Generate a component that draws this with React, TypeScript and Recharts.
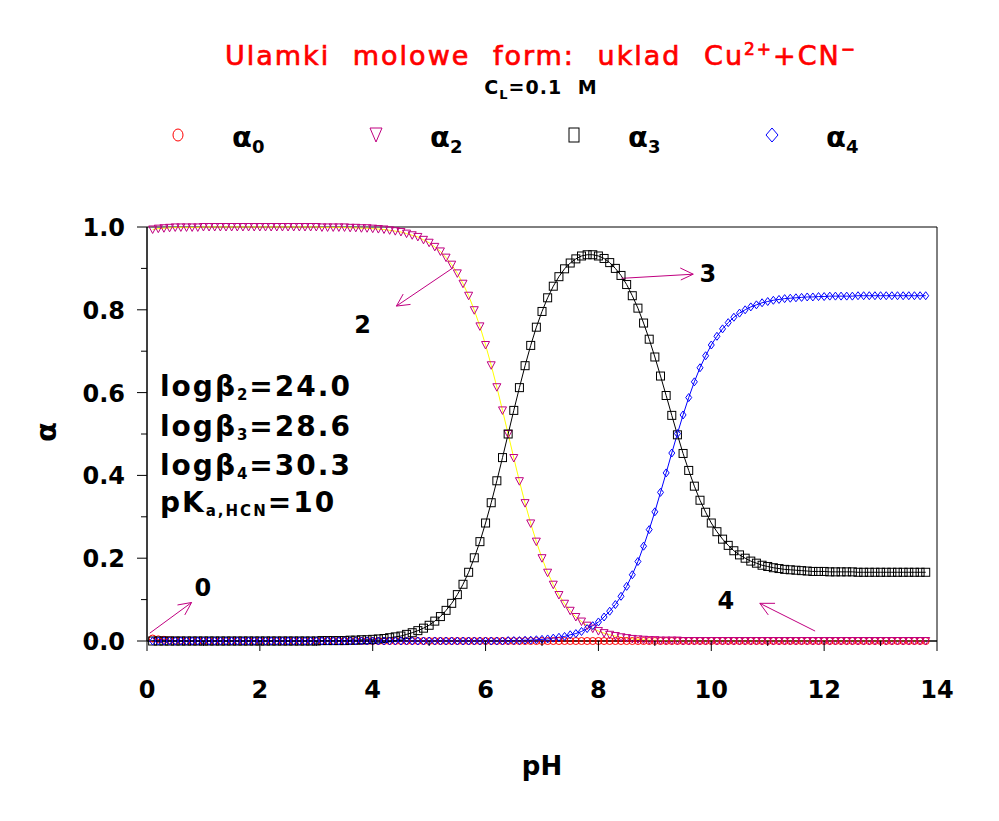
import { LineChart, Line, XAxis, YAxis, ReferenceArea, ReferenceLine, ReferenceDot } from 'recharts'

// pH grid, 0.1 .. 13.8
const pH = [
  0.1, 0.2, 0.3, 0.4, 0.5, 0.6, 0.7, 0.8, 0.9, 1.0,
  1.1, 1.2, 1.3, 1.4, 1.5, 1.6, 1.7, 1.8, 1.9, 2.0,
  2.1, 2.2, 2.3, 2.4, 2.5, 2.6, 2.7, 2.8, 2.9, 3.0,
  3.1, 3.2, 3.3, 3.4, 3.5, 3.6, 3.7, 3.8, 3.9, 4.0,
  4.1, 4.2, 4.3, 4.4, 4.5, 4.6, 4.7, 4.8, 4.9, 5.0,
  5.1, 5.2, 5.3, 5.4, 5.5, 5.6, 5.7, 5.8, 5.9, 6.0,
  6.1, 6.2, 6.3, 6.4, 6.5, 6.6, 6.7, 6.8, 6.9, 7.0,
  7.1, 7.2, 7.3, 7.4, 7.5, 7.6, 7.7, 7.8, 7.9, 8.0,
  8.1, 8.2, 8.3, 8.4, 8.5, 8.6, 8.7, 8.8, 8.9, 9.0,
  9.1, 9.2, 9.3, 9.4, 9.5, 9.6, 9.7, 9.8, 9.9, 10.0,
  10.1, 10.2, 10.3, 10.4, 10.5, 10.6, 10.7, 10.8, 10.9, 11.0,
  11.1, 11.2, 11.3, 11.4, 11.5, 11.6, 11.7, 11.8, 11.9, 12.0,
  12.1, 12.2, 12.3, 12.4, 12.5, 12.6, 12.7, 12.8, 12.9, 13.0,
  13.1, 13.2, 13.3, 13.4, 13.5, 13.6, 13.7, 13.8,
]

const alpha0 = [
  0.006, 0.004, 0.003, 0.002, 0.001, 0.001, 0, 0, 0, 0,
  0, 0, 0, 0, 0, 0, 0, 0, 0, 0,
  0, 0, 0, 0, 0, 0, 0, 0, 0, 0,
  0, 0, 0, 0, 0, 0, 0, 0, 0, 0,
  0, 0, 0, 0, 0, 0, 0, 0, 0, 0,
  0, 0, 0, 0, 0, 0, 0, 0, 0, 0,
  0, 0, 0, 0, 0, 0, 0, 0, 0, 0,
  0, 0, 0, 0, 0, 0, 0, 0, 0, 0,
  0, 0, 0, 0, 0, 0, 0, 0, 0, 0,
  0, 0, 0, 0, 0, 0, 0, 0, 0, 0,
  0, 0, 0, 0, 0, 0, 0, 0, 0, 0,
  0, 0, 0, 0, 0, 0, 0, 0, 0, 0,
  0, 0, 0, 0, 0, 0, 0, 0, 0, 0,
  0, 0, 0, 0, 0, 0, 0, 0,
]

const alpha2 = [
  0.994, 0.996, 0.997, 0.998, 0.999, 0.999, 0.999, 0.999, 0.999, 1.0,
  1.0, 1.0, 1.0, 1.0, 1.0, 1.0, 1.0, 1.0, 1.0, 1.0,
  1.0, 1.0, 1.0, 1.0, 1.0, 1.0, 1.0, 1.0, 1.0, 1.0,
  0.999, 0.999, 0.999, 0.999, 0.999, 0.998, 0.998, 0.997, 0.997, 0.996,
  0.995, 0.994, 0.992, 0.99, 0.988, 0.984, 0.98, 0.976, 0.969, 0.962,
  0.952, 0.941, 0.926, 0.909, 0.888, 0.863, 0.834, 0.799, 0.76, 0.715,
  0.666, 0.613, 0.557, 0.5, 0.442, 0.386, 0.333, 0.284, 0.24, 0.2,
  0.165, 0.136, 0.111, 0.09, 0.073, 0.058, 0.047, 0.037, 0.03, 0.024,
  0.019, 0.015, 0.012, 0.009, 0.007, 0.005, 0.004, 0.003, 0.002, 0.002,
  0.001, 0.001, 0.001, 0.001, 0, 0, 0, 0, 0, 0,
  0, 0, 0, 0, 0, 0, 0, 0, 0, 0,
  0, 0, 0, 0, 0, 0, 0, 0, 0, 0,
  0, 0, 0, 0, 0, 0, 0, 0, 0, 0,
  0, 0, 0, 0, 0, 0, 0, 0,
]

const alpha3 = [
  0, 0, 0, 0, 0, 0, 0, 0, 0, 0,
  0, 0, 0, 0, 0, 0, 0, 0, 0, 0,
  0, 0, 0, 0, 0, 0, 0, 0, 0, 0,
  0.001, 0.001, 0.001, 0.001, 0.001, 0.002, 0.002, 0.003, 0.003, 0.004,
  0.005, 0.006, 0.008, 0.01, 0.012, 0.016, 0.02, 0.025, 0.031, 0.038,
  0.048, 0.059, 0.074, 0.091, 0.112, 0.137, 0.166, 0.201, 0.24, 0.285,
  0.334, 0.387, 0.443, 0.5, 0.557, 0.612, 0.665, 0.714, 0.758, 0.796,
  0.829, 0.857, 0.88, 0.899, 0.913, 0.923, 0.93, 0.933, 0.933, 0.93,
  0.924, 0.914, 0.9, 0.883, 0.861, 0.834, 0.804, 0.768, 0.729, 0.686,
  0.64, 0.593, 0.545, 0.498, 0.453, 0.412, 0.374, 0.34, 0.311, 0.285,
  0.264, 0.246, 0.231, 0.218, 0.208, 0.2, 0.193, 0.188, 0.183, 0.18,
  0.177, 0.175, 0.173, 0.172, 0.171, 0.17, 0.169, 0.168, 0.168, 0.168,
  0.167, 0.167, 0.167, 0.167, 0.167, 0.166, 0.166, 0.166, 0.166, 0.166,
  0.166, 0.166, 0.166, 0.166, 0.166, 0.166, 0.166, 0.166,
]

const alpha4 = [
  0, 0, 0, 0, 0, 0, 0, 0, 0, 0,
  0, 0, 0, 0, 0, 0, 0, 0, 0, 0,
  0, 0, 0, 0, 0, 0, 0, 0, 0, 0,
  0, 0, 0, 0, 0, 0, 0, 0, 0, 0,
  0, 0, 0, 0, 0, 0, 0, 0, 0, 0,
  0, 0, 0, 0, 0, 0, 0, 0, 0, 0,
  0, 0, 0, 0.001, 0.001, 0.001, 0.002, 0.002, 0.003, 0.004,
  0.005, 0.007, 0.009, 0.011, 0.015, 0.018, 0.023, 0.03, 0.037, 0.046,
  0.058, 0.072, 0.088, 0.108, 0.132, 0.16, 0.192, 0.229, 0.269, 0.312,
  0.359, 0.406, 0.454, 0.501, 0.546, 0.588, 0.626, 0.66, 0.689, 0.715,
  0.736, 0.754, 0.769, 0.782, 0.792, 0.8, 0.807, 0.812, 0.817, 0.82,
  0.823, 0.825, 0.827, 0.828, 0.829, 0.83, 0.831, 0.831, 0.832, 0.832,
  0.833, 0.833, 0.833, 0.833, 0.833, 0.834, 0.834, 0.834, 0.834, 0.834,
  0.834, 0.834, 0.834, 0.834, 0.834, 0.834, 0.834, 0.834,
]

const xTicks = [0, 1, 2, 3, 4, 5, 6, 7, 8, 9, 10, 11, 12, 13, 14]
const yTicks = [0, 0.1, 0.2, 0.3, 0.4, 0.5, 0.6, 0.7, 0.8, 0.9, 1.0]

// annotation arrows in data units: tail, head, two wing ends
const arrows = [
  { tail: [5.43, 0.902], head: [4.42, 0.809], w1: [4.54, 0.838], w2: [4.67, 0.813] },
  { tail: [8.41, 0.876], head: [9.68, 0.886], w1: [9.45, 0.901], w2: [9.46, 0.872] },
  { tail: [0.05, 0.019], head: [0.79, 0.093], w1: [0.54, 0.087], w2: [0.67, 0.063] },
  { tail: [11.84, 0.024], head: [10.86, 0.091], w1: [11.13, 0.091], w2: [11.01, 0.063] },
]
const curveLabels = [
  { text: '2', x: 3.82, y: 0.766 },
  { text: '3', x: 9.94, y: 0.888 },
  { text: '0', x: 0.99, y: 0.13 },
  { text: '4', x: 10.26, y: 0.099 },
]

const data = pH.map((p, i) => ({ pH: p, a0: alpha0[i], a2: alpha2[i], a3: alpha3[i], a4: alpha4[i] }))

const MAGENTA = '#c00080'
const FONT = '"DejaVu Sans", sans-serif'

const CircleDot = (p: any) => (
  <circle key={p.index} cx={p.cx} cy={p.cy} r={3.5} fill="none" stroke="#ff0000" strokeWidth={1} />
)
const TriDot = (p: any) => (
  <path key={p.index} d={`M${p.cx - 4},${p.cy - 3.5}L${p.cx + 4},${p.cy - 3.5}L${p.cx},${p.cy + 4}Z`}
    fill="none" stroke={MAGENTA} strokeWidth={1} />
)
const SquareDot = (p: any) => (
  <rect key={p.index} x={p.cx - 4} y={p.cy - 4} width={8} height={8} fill="none" stroke="#000" strokeWidth={1} />
)
const DiamondDot = (p: any) => (
  <path key={p.index} d={`M${p.cx},${p.cy - 4}L${p.cx + 3},${p.cy}L${p.cx},${p.cy + 4}L${p.cx - 3},${p.cy}Z`}
    fill="none" stroke="#0000ff" strokeWidth={1} />
)

const XTick = (props: any) => {
  const { x, y, payload } = props
  const v = payload.value
  const major = v % 2 === 0
  return (
    <g>
      <line x1={x} y1={y} x2={x} y2={y + (major ? 10 : 5)} stroke="#000" />
      {major && (
        <text x={x} y={y + 57} textAnchor="middle" fontFamily={FONT} fontWeight="bold" fontSize={24} fill="#000">
          {v}
        </text>
      )}
    </g>
  )
}

const YTick = (props: any) => {
  const { x, y, payload } = props
  const v = payload.value
  const major = Math.round(v * 10) % 2 === 0
  return (
    <g>
      <line x1={x} y1={y} x2={x - (major ? 10 : 6)} y2={y} stroke="#000" />
      {major && (
        <text x={x - 22} y={y + 9} textAnchor="end" fontFamily={FONT} fontWeight="bold" fontSize={24} fill="#000">
          {v.toFixed(1)}
        </text>
      )}
    </g>
  )
}

const legendItems = [
  { sub: '0', mx: 178, tx: 232, kind: 'circle' },
  { sub: '2', mx: 376, tx: 430, kind: 'tri' },
  { sub: '3', mx: 574, tx: 628, kind: 'square' },
  { sub: '4', mx: 772, tx: 826, kind: 'diamond' },
]

function LegendMarker({ kind, x, y }: { kind: string; x: number; y: number }) {
  if (kind === 'circle') return <ellipse cx={x} cy={y} rx={5} ry={6} fill="none" stroke="#ff0000" />
  if (kind === 'tri') return <path d={`M${x - 6},${y - 7}L${x + 6},${y - 7}L${x},${y + 7}Z`} fill="none" stroke={MAGENTA} />
  if (kind === 'square') return <rect x={x - 5} y={y - 7} width={10} height={14} fill="none" stroke="#000" />
  return <path d={`M${x},${y - 7}L${x + 6},${y}L${x},${y + 7}L${x - 6},${y}Z`} fill="none" stroke="#0000ff" />
}

const params = [
  { main: 'logβ', sub: '2', rest: '=24.0', y: 396 },
  { main: 'logβ', sub: '3', rest: '=28.6', y: 436 },
  { main: 'logβ', sub: '4', rest: '=30.3', y: 475 },
  { main: 'pK', sub: 'a,HCN', rest: '=10', y: 512 },
]

export default function App() {
  return (
    <div style={{ position: 'relative', width: 999, height: 821, background: '#fff' }}>
      <style>{`body{margin:0}`}</style>
      <LineChart width={999} height={821} data={data} margin={{ top: 227, right: 62, left: 0, bottom: 0 }}>
        <XAxis dataKey="pH" type="number" domain={[0, 14]} ticks={xTicks} height={180}
          tickSize={0} tickMargin={0} tickLine={false} tick={<XTick />} axisLine={{ stroke: '#000' }} interval={0} />
        <YAxis type="number" domain={[0, 1]} ticks={yTicks} width={147}
          tickSize={0} tickMargin={0} tickLine={false} tick={<YTick />} axisLine={{ stroke: '#000' }} interval={0} />
        <ReferenceArea x1={0} x2={14} y1={0} y2={1} fill="none" fillOpacity={0} stroke="#000" strokeWidth={1} />
        <Line dataKey="a0" stroke="#ff0000" strokeWidth={1} dot={CircleDot} isAnimationActive={false} />
        <Line dataKey="a2" stroke="#ffff00" strokeWidth={1} dot={TriDot} isAnimationActive={false} />
        <Line dataKey="a3" stroke="#000" strokeWidth={1} dot={SquareDot} isAnimationActive={false} />
        <Line dataKey="a4" stroke="#0000ff" strokeWidth={1} dot={DiamondDot} isAnimationActive={false} />
        {arrows.flatMap((a, i) => [
          <ReferenceLine key={`a${i}`} segment={[{ x: a.tail[0], y: a.tail[1] }, { x: a.head[0], y: a.head[1] }]} stroke={MAGENTA} />,
          <ReferenceLine key={`b${i}`} segment={[{ x: a.head[0], y: a.head[1] }, { x: a.w1[0], y: a.w1[1] }]} stroke={MAGENTA} />,
          <ReferenceLine key={`c${i}`} segment={[{ x: a.head[0], y: a.head[1] }, { x: a.w2[0], y: a.w2[1] }]} stroke={MAGENTA} />,
        ])}
        {curveLabels.map((c) => (
          <ReferenceDot key={c.text} x={c.x} y={c.y} r={0}
            shape={(p: any) => (
              <text x={p.cx} y={p.cy + 9} textAnchor="middle" fontFamily={FONT} fontWeight="bold" fontSize={24} fill="#000">
                {c.text}
              </text>
            )} />
        ))}
      </LineChart>

      <svg width={999} height={821} style={{ position: 'absolute', left: 0, top: 0, pointerEvents: 'none' }}>
        <text x={541} y={65} textAnchor="middle" fontFamily={FONT} fontSize={27} fill="#ff0000"
          stroke="#ff0000" strokeWidth={0.7} style={{ letterSpacing: '2px', wordSpacing: '12px' }}>
          Ulamki molowe form: uklad Cu<tspan dy={-10} fontSize={17}>2+</tspan><tspan dy={10}>+CN</tspan><tspan dy={-10} fontSize={17}>−</tspan>
        </text>
        <text x={541} y={94} textAnchor="middle" fontFamily={FONT} fontWeight="bold" fontSize={19} fill="#000"
          style={{ letterSpacing: '1px', wordSpacing: '8px' }}>
          C<tspan dy={5} fontSize={13}>L</tspan><tspan dy={-5}>=0.1 M</tspan>
        </text>

        {legendItems.map((l) => (
          <g key={l.sub}>
            <LegendMarker kind={l.kind} x={l.mx} y={135} />
            <text x={l.tx} y={147} fontFamily={FONT} fontWeight="bold" fontSize={29} fill="#000">
              α<tspan dy={6} fontSize={18}>{l.sub}</tspan>
            </text>
          </g>
        ))}

        {params.map((p) => (
          <text key={p.y} x={160} y={p.y} fontFamily={FONT} fontWeight="bold" fontSize={28} fill="#000"
            style={{ letterSpacing: '2px' }}>
            {p.main}<tspan dy={4} fontSize={15}>{p.sub}</tspan><tspan dy={-4}>{p.rest}</tspan>
          </text>
        ))}

        <text x={0} y={0} transform="translate(56,432) rotate(-90)" textAnchor="middle" fontFamily={FONT}
          fontWeight="bold" fontSize={29} fill="#000">α</text>
        <text x={542} y={775} textAnchor="middle" fontFamily={FONT} fontWeight="bold" fontSize={26} fill="#000">pH</text>
      </svg>
    </div>
  )
}
